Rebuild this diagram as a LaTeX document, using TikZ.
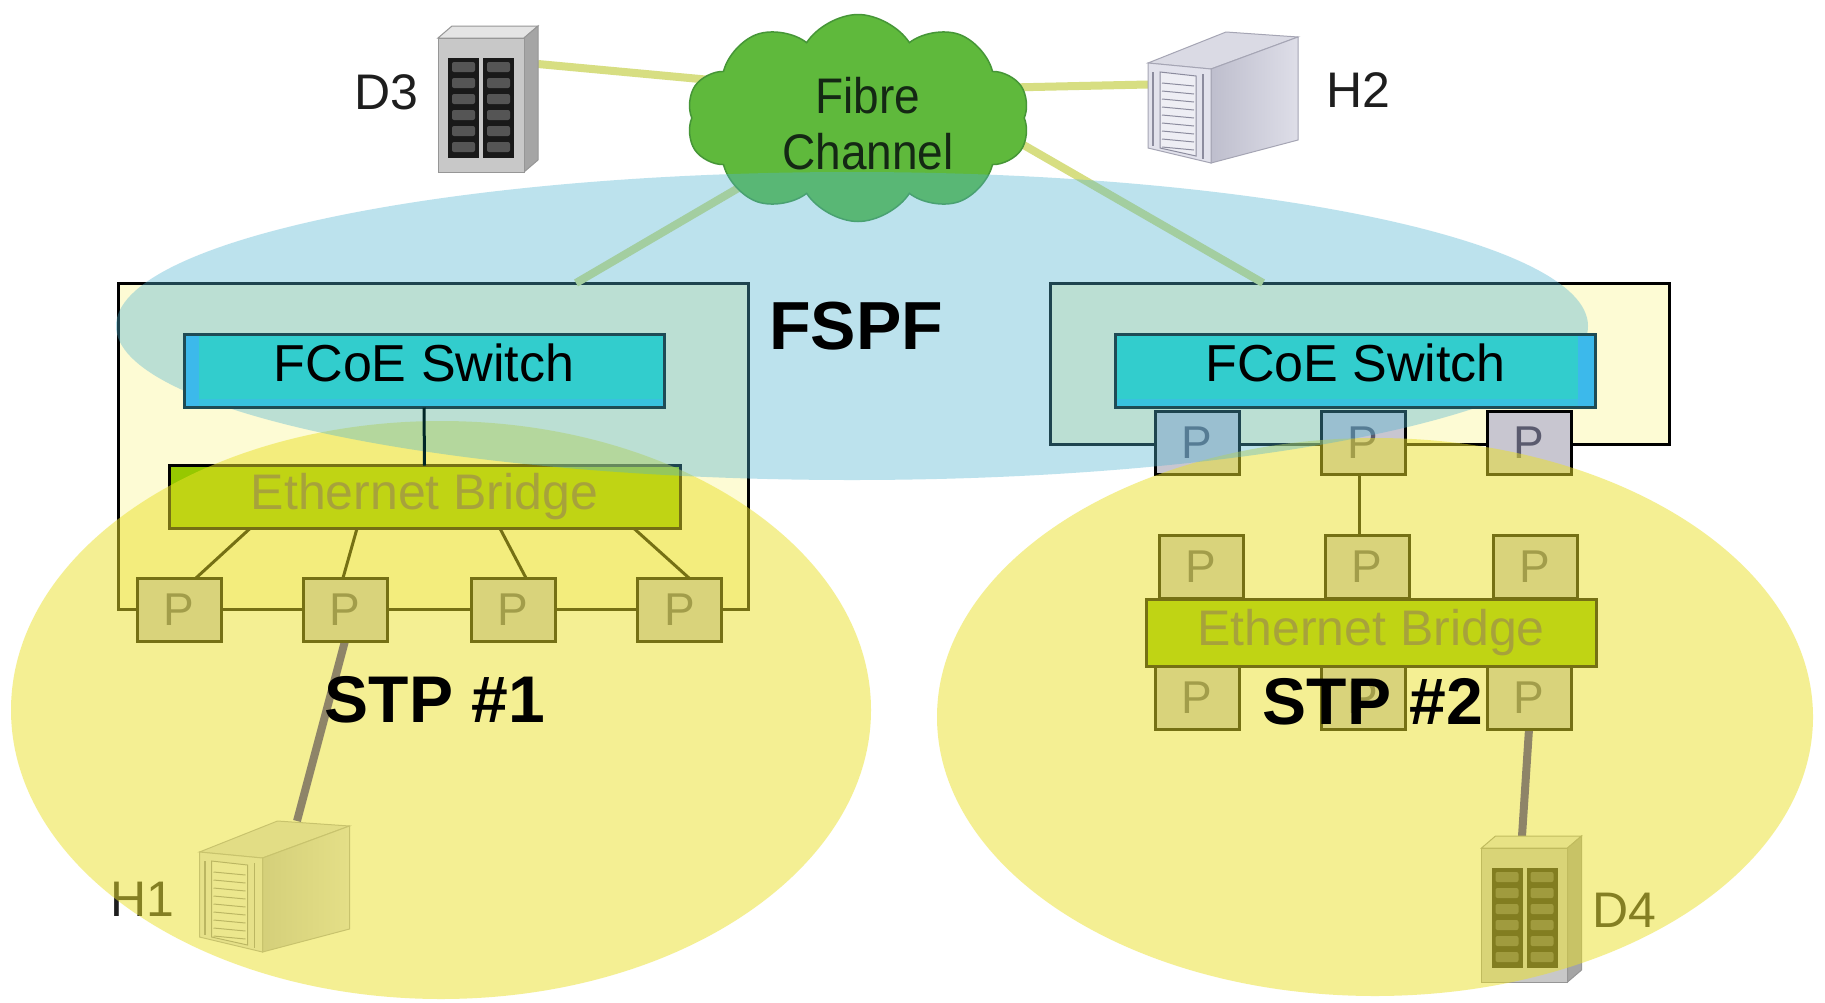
\documentclass[tikz,border=0pt]{standalone}
\usepackage{fontspec}
\setmainfont{Liberation Sans}
\usetikzlibrary{shapes.symbols}

\definecolor{boxcream}{RGB}{253,251,212}
\definecolor{fcoefill}{RGB}{50,205,205}
\definecolor{fcoeedge}{RGB}{30,75,85}
\definecolor{fcoeglow}{RGB}{60,185,235}
\definecolor{bridgefill}{RGB}{150,200,0}
\definecolor{bridgetext}{RGB}{100,100,80}
\definecolor{portfill}{RGB}{200,198,208}
\definecolor{porttext}{RGB}{90,90,110}
\definecolor{fclinecol}{RGB}{215,222,130}
\definecolor{cablecol}{RGB}{50,40,170}
\definecolor{yellowveil}{RGB}{235,225,40}
\definecolor{blueveil}{RGB}{80,180,210}
\definecolor{cloudgreen}{RGB}{95,185,60}
\definecolor{cloudedge}{RGB}{70,150,55}
\definecolor{cloudtext}{RGB}{20,40,20}
\definecolor{labeltext}{RGB}{30,30,30}
\definecolor{towertop}{RGB}{218,218,228}
\definecolor{towerside}{RGB}{190,190,205}
\definecolor{towersidelight}{RGB}{222,222,232}
\definecolor{towerfront}{RGB}{226,226,236}
\definecolor{towerpanel}{RGB}{238,238,244}
\definecolor{towerbay}{RGB}{140,140,158}
\definecolor{toweredge}{RGB}{165,165,180}
\definecolor{stortop}{RGB}{228,228,228}
\definecolor{storside}{RGB}{165,165,165}
\definecolor{storfront}{RGB}{200,200,200}
\definecolor{storedge}{RGB}{150,150,150}
\definecolor{storslot}{RGB}{25,25,25}
\definecolor{storbay}{RGB}{85,85,85}

\newcommand\fsz[1]{\fontsize{#1}{#1}\selectfont}

\pgfdeclarelayer{bg}
\pgfdeclarelayer{veil}
\pgfdeclarelayer{front}
\pgfsetlayers{bg,main,veil,front}

\tikzset{
  every node/.style={inner sep=0pt, outer sep=0pt},
  outerbox/.style={draw=black, line width=3pt, fill=boxcream},
  fcoe/.style={draw=fcoeedge, line width=3pt, fill=fcoefill,
    minimum width=480pt, minimum height=73pt, text depth=16pt, font=\fsz{52}},
  bridge/.style={draw=black, line width=3pt, fill=bridgefill,
    text=bridgetext, minimum height=63pt, font=\fsz{50}},
  port/.style={draw=black, line width=3pt, fill=portfill, text=porttext,
    minimum width=84pt, minimum height=63pt, font=\fsz{46}},
  link/.style={draw=black, line width=3pt},
  fclink/.style={draw=fclinecol, line width=8pt},
  cable/.style={draw=cablecol, line width=8pt},
  devlabel/.style={text=labeltext, font=\fsz{50}},
  biglabel/.style={text=black, font=\fsz{66}\bfseries},
  tower/.pic={
    \filldraw[fill=towertop, draw=toweredge, line width=1pt]
      (0,31) -- (78,0) -- (150,5) -- (63,37) -- cycle;
    \shade[left color=towerside, right color=towersidelight]
      (63,37) -- (150,5) -- (150,108) -- (63,131) -- cycle;
    \draw[toweredge, line width=1pt]
      (63,37) -- (150,5) -- (150,108) -- (63,131) -- cycle;
    \filldraw[fill=towerfront, draw=toweredge, line width=1pt]
      (0,31) -- (63,37) -- (63,131) -- (0,116) -- cycle;
    \draw[towerbay, line width=2pt] (5,40) -- (5,114);
    \filldraw[fill=towerpanel, draw=towerbay, line width=1pt]
      (12,40) -- (48,44) -- (48,124) -- (12,116) -- cycle;
    \foreach \k in {0,...,8}
      \draw[towerbay, line width=1pt] (14,{51+8*\k}) -- (46,{54+8*\k});
    \draw[towerbay, line width=1.5pt] (55,42) -- (55,127);
  },
  storage/.pic={
    \filldraw[fill=stortop, draw=storedge, line width=1pt]
      (0,12) -- (14,0) -- (100,0) -- (86,12) -- cycle;
    \filldraw[fill=storside, draw=storedge, line width=1pt]
      (86,12) -- (100,0) -- (100,134) -- (86,146) -- cycle;
    \filldraw[fill=storfront, draw=storedge, line width=1pt]
      (0,12) rectangle (86,146);
    \foreach \cx in {10,45} {
      \fill[storslot] (\cx,32) rectangle ++(31,100);
      \foreach \k in {0,...,5}
        \fill[storbay, rounded corners=2pt]
          ({\cx+4},{36+16*\k}) rectangle ++(23,10);
    }
  }
}

\begin{document}
\begin{tikzpicture}[x=1pt,y=-1pt]
\useasboundingbox (0,0) rectangle (1825,1002);

% ---------- switch enclosures ----------
\begin{pgfonlayer}{bg}
  \fill[white] (0,0) rectangle (1825,1002);
  \node[outerbox, minimum width=630pt, minimum height=326.5pt] (outerL) at (433,446.25) {};
  \node[outerbox, minimum width=619pt, minimum height=161pt] (outerR) at (1359.5,363.5) {};
\end{pgfonlayer}

% ---------- Fibre Channel fabric ----------
\node[cloud, cloud puffs=10, cloud puff arc=115, aspect=1.65,
      minimum width=343pt, minimum height=207pt,
      fill=cloudgreen, draw=cloudedge, line width=1.5pt] (cloud) at (858,118) {};
\node[align=center, text=cloudtext, font=\fsz{50}] (cloudname) at (868,124)
  {\scalebox{0.92}[1]{Fibre}\\[6pt]\scalebox{0.92}[1]{Channel}};

% ---------- devices ----------
\node[minimum width=100pt, minimum height=146pt] (D3) at (488,99) {};
\pic at (D3.north west) {storage};
\node[devlabel] (D3lbl) at (386,92) {D3};

\node[minimum width=150pt, minimum height=131pt] (H2) at (1223,97.5) {};
\pic at (H2.north west) {tower};
\node[devlabel] (H2lbl) at (1358,90) {H2};

\node[minimum width=150pt, minimum height=131pt] (H1) at (274.5,886.5) {};
\pic at (H1.north west) {tower};
\node[devlabel] (H1lbl) at (142,899) {H1};

\node[minimum width=100pt, minimum height=147pt] (D4) at (1531.5,909.5) {};
\pic at (D4.north west) {storage};
\node[devlabel] (D4lbl) at (1624,910) {D4};

% ---------- left switch: bridge and ports ----------
\node[bridge, minimum width=511pt] (bridgeL) at (424.5,497) {Ethernet Bridge};
\node[port] (pL1) at (179,609.5) {P};
\node[port] (pL2) at (345,609.5) {P};
\node[port] (pL3) at (513,609.5) {P};
\node[port] (pL4) at (679.5,609.5) {P};

% ---------- right switch: ports and bridge ----------
\node[port] (pRt1) at (1197,442.5) {P};
\node[port] (pRt2) at (1363,442.5) {P};
\node[port] (pRt3) at (1529,442.5) {P};
\node[bridge, minimum width=450pt, minimum height=67pt] (bridgeR) at (1371,632.5) {Ethernet Bridge};
\node[port] (pRm1) at (1201,567) {P};
\node[port] (pRm2) at (1367,567) {P};
\node[port] (pRm3) at (1535,567) {P};
\node[port] (pRb1) at (1197,697.5) {P};
\node[port] (pRb2) at (1363,697.5) {P};
\node[port] (pRb3) at (1529,697.5) {P};

% ---------- links ----------
\begin{pgfonlayer}{bg}
  \draw[fclink] ([yshift=35pt]D3.east) -- ([xshift=40pt,yshift=36pt]cloud.west);
  \draw[fclink] ([yshift=13pt]H2.west) -- ([xshift=-40pt,yshift=30pt]cloud.east);
  \draw[fclink] (cloud.center) -- ([xshift=143pt]outerL.north);
  \draw[fclink] ([xshift=-30pt,yshift=-10pt]cloud.east) -- ([xshift=-96.5pt]outerR.north);
  \draw[link] ([xshift=-4pt]pRt2.south) -- ([xshift=-8pt]pRm2.north);
  \draw[cable] (pL2.south) -- ([xshift=22.5pt]H1.north);
  \draw[cable] (pRb3.south) -- ([xshift=-9.5pt]D4.north);
\end{pgfonlayer}
\draw[link] ([xshift=-174.5pt]bridgeL.south) -- ([xshift=17pt]pL1.north);
\draw[link] ([xshift=-67.5pt]bridgeL.south) -- ([xshift=-2pt]pL2.north);
\draw[link] ([xshift=75.5pt]bridgeL.south) -- ([xshift=13pt]pL3.north);
\draw[link] ([xshift=209.5pt]bridgeL.south) -- ([xshift=9.5pt]pL4.north);

% ---------- spanning-tree and FSPF domains ----------
\begin{pgfonlayer}{veil}
  \fill[yellowveil, opacity=0.5] (441,710) ellipse [x radius=430pt, y radius=289pt];
  \fill[yellowveil, opacity=0.5] (1375,717) ellipse [x radius=438pt, y radius=279pt];
  \fill[blueveil, opacity=0.38] (852,326) ellipse [x radius=736pt, y radius=154pt];
\end{pgfonlayer}

% ---------- FCoE switches and domain names ----------
\begin{pgfonlayer}{front}
  \node[fcoe] (fcoeL) at (424,371) {FCoE Switch};
  \fill[fcoeglow] ([xshift=1.5pt,yshift=-1.5pt]fcoeL.north west) rectangle ([xshift=15pt,yshift=1.5pt]fcoeL.south west);
  \fill[fcoeglow, opacity=0.6] ([xshift=1.5pt,yshift=9pt]fcoeL.south west) rectangle ([xshift=-1.5pt,yshift=1.5pt]fcoeL.south east);
  \node[fcoe] (fcoeR) at (1355.5,371) {FCoE Switch};
  \fill[fcoeglow] ([xshift=-18pt,yshift=-1.5pt]fcoeR.north east) rectangle ([xshift=-1.5pt,yshift=1.5pt]fcoeR.south east);
  \fill[fcoeglow, opacity=0.6] ([xshift=1.5pt,yshift=9pt]fcoeR.south west) rectangle ([xshift=-1.5pt,yshift=1.5pt]fcoeR.south east);
  \draw[link, draw=black!70!teal] (fcoeL.south) -- (bridgeL.north);
  \node[biglabel, font=\fsz{68}\bfseries] (fspf) at (856,326) {FSPF};
  \node[biglabel] (stp1) at (435,700) {STP \#1};
  \node[biglabel] (stp2) at (1373,702) {STP \#2};
\end{pgfonlayer}
\end{tikzpicture}
\end{document}
